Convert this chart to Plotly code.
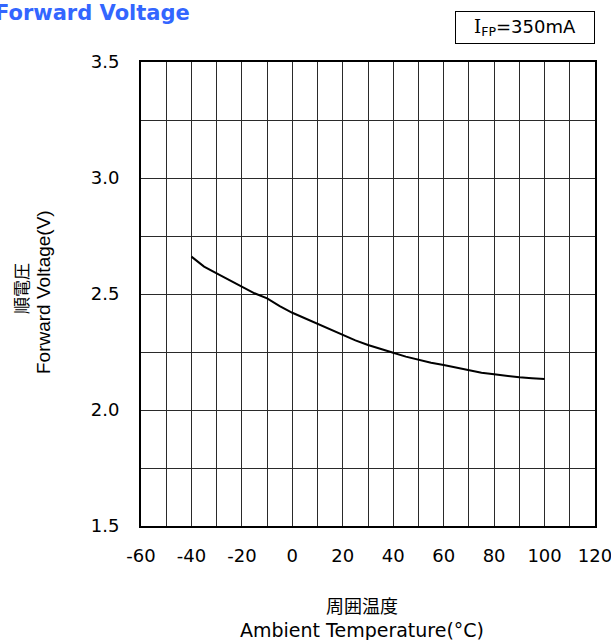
import plotly.graph_objects as go

temperature = [-40, -35, -30, -25, -20, -15, -10, -5, 0, 5, 10, 15, 20, 25, 30, 35, 40,
               45, 50, 55, 60, 65, 70, 75, 80, 85, 90, 95, 100]
forward_voltage = [2.661, 2.618, 2.589, 2.560, 2.531, 2.503, 2.481, 2.448, 2.419, 2.395,
                   2.369, 2.345, 2.323, 2.300, 2.280, 2.262, 2.247, 2.230, 2.216, 2.204,
                   2.194, 2.182, 2.172, 2.161, 2.154, 2.147, 2.141, 2.137, 2.134]

x_range = [-60, 120]
y_range = [1.5, 3.5]
x_tickvals = [-60, -40, -20, 0, 20, 40, 60, 80, 100, 120]
x_ticktext = ["-60", "-40", "-20", "0", "20", "40", "60", "80", "100", "120"]
y_tickvals = [1.5, 2.0, 2.5, 3.0, 3.5]
y_ticktext = ["1.5", "2.0", "2.5", "3.0", "3.5"]

title_text = "Forward Voltage"
condition_text = '<span style="font-family:DejaVu Serif">I</span><sub>FP</sub>=350mA'
x_title_jp = "周囲温度"
x_title_en = "Ambient Temperature(°C)"
y_title_jp = "順電圧"
y_title_en = "Forward Voltage(V)"

W, H = 611, 640
L, R, T, B = 141, 16, 62, 114
pw = W - L - R
ph = H - T - B


def px_x(p):
    return (p - L) / pw


def px_y(p):
    return (H - B - p) / ph


fig = go.Figure()
fig.add_trace(go.Scatter(x=temperature, y=forward_voltage, mode="lines",
                         line=dict(color="black", width=2), showlegend=False,
                         hoverinfo="skip"))

grid_col = "#2a2a2a"
fig.update_xaxes(range=x_range, tickmode="array", tickvals=x_tickvals, ticktext=x_ticktext,
                 showgrid=True, gridcolor=grid_col,
                 gridwidth=1, zeroline=False, showline=True, linecolor="black",
                 linewidth=2, mirror=True, ticks="",
                 minor=dict(dtick=10, tick0=-60, showgrid=True, gridcolor=grid_col, gridwidth=1),
                 tickfont=dict(family="DejaVu Sans", size=18, color="black"),
                 ticklabelstandoff=12, ticklabeloverflow="allow")
fig.update_yaxes(range=y_range, tickmode="array", tickvals=y_tickvals, ticktext=y_ticktext,
                 showgrid=True,
                 gridcolor=grid_col, gridwidth=1, zeroline=False, showline=True,
                 linecolor="black", linewidth=2, mirror=True, ticks="",
                 minor=dict(dtick=0.25, tick0=1.5, showgrid=True, gridcolor=grid_col, gridwidth=1),
                 tickfont=dict(family="DejaVu Sans", size=18, color="black"),
                 ticklabelstandoff=16, ticklabeloverflow="allow")

ann = []
ann.append(dict(text=f"<b>{title_text}</b>", xref="paper", yref="paper",
                x=px_x(192), y=px_y(13), xanchor="right", yanchor="middle",
                showarrow=False, font=dict(family="DejaVu Sans", size=21, color="#3366ff")))
ann.append(dict(text=condition_text, xref="paper", yref="paper",
                x=px_x(595), y=px_y(11), xanchor="right", yanchor="top",
                showarrow=False, width=136, height=29, align="center", valign="middle",
                bordercolor="black", borderwidth=1, borderpad=1, bgcolor="white",
                font=dict(family="DejaVu Sans", size=18, color="black")))
ann.append(dict(text=x_title_jp, xref="paper", yref="paper",
                x=px_x(362), y=px_y(605), xanchor="center", yanchor="middle",
                showarrow=False, font=dict(family="Noto Sans CJK JP", size=18, color="black")))
ann.append(dict(text=x_title_en, xref="paper", yref="paper",
                x=px_x(362), y=px_y(630), xanchor="center", yanchor="middle",
                showarrow=False, font=dict(family="DejaVu Sans", size=19, color="black")))
ann.append(dict(text=y_title_jp, xref="paper", yref="paper",
                x=px_x(20), y=px_y(288), xanchor="center", yanchor="middle", textangle=-90,
                showarrow=False, font=dict(family="Noto Sans CJK JP", size=17, color="black")))
ann.append(dict(text=y_title_en, xref="paper", yref="paper",
                x=px_x(43), y=px_y(292), xanchor="center", yanchor="middle", textangle=-90,
                showarrow=False, font=dict(family="Liberation Sans", size=19, color="black")))

fig.update_layout(width=W, height=H, margin=dict(l=L, r=R, t=T, b=B, autoexpand=False),
                  plot_bgcolor="white", paper_bgcolor="white", annotations=ann,
                  showlegend=False)

fig.write_html("out.html", config={"displayModeBar": False},
               post_script="document.body.style.margin='0';document.body.style.overflow='hidden';")
